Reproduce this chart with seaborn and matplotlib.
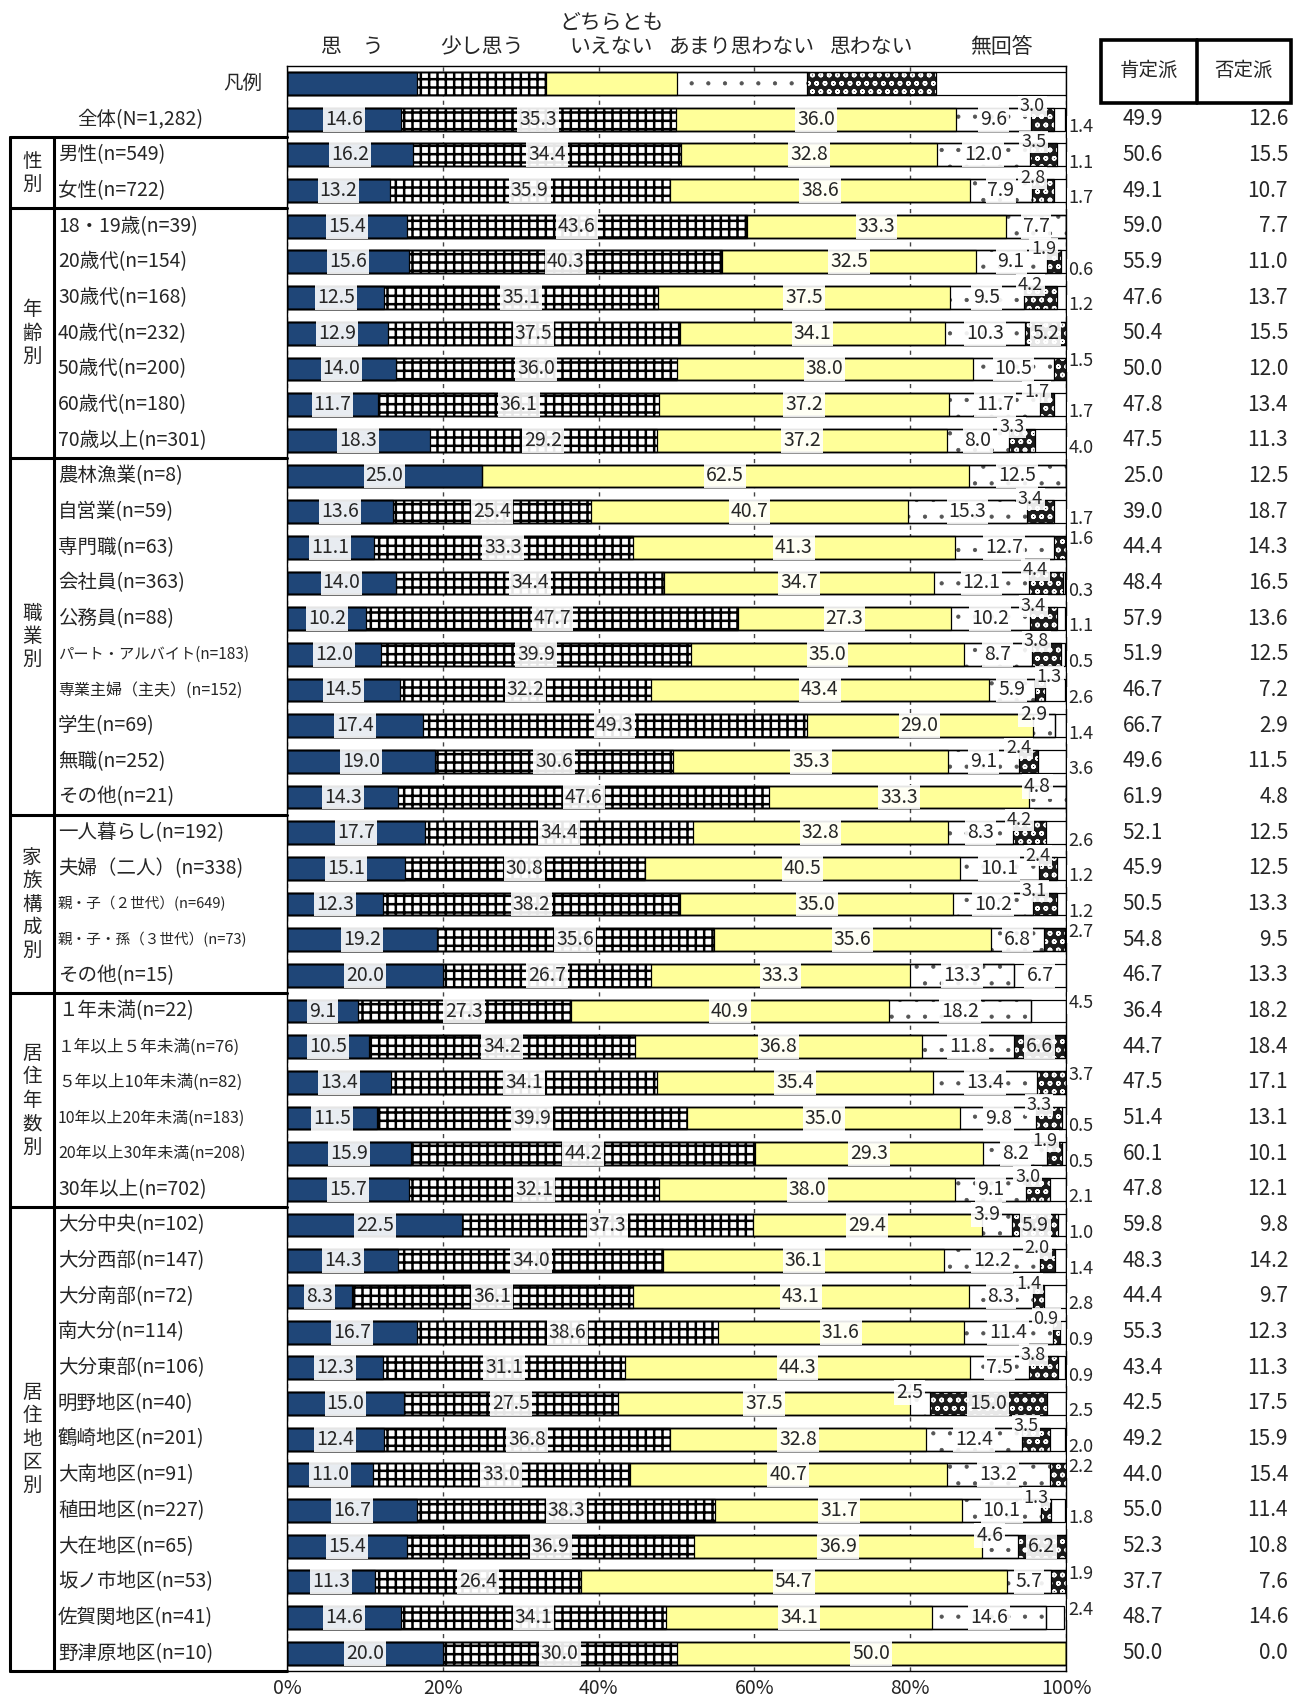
import numpy as np
import pandas as pd
import seaborn as sns
import matplotlib.pyplot as plt
from matplotlib.patches import Rectangle
from matplotlib.transforms import blended_transform_factory

categories = [
    "全体(N=1,282)",
    "男性(n=549)", "女性(n=722)",
    "18・19歳(n=39)", "20歳代(n=154)", "30歳代(n=168)", "40歳代(n=232)",
    "50歳代(n=200)", "60歳代(n=180)", "70歳以上(n=301)",
    "農林漁業(n=8)", "自営業(n=59)", "専門職(n=63)", "会社員(n=363)", "公務員(n=88)",
    "パート・アルバイト(n=183)", "専業主婦（主夫）(n=152)", "学生(n=69)", "無職(n=252)",
    "その他(n=21)",
    "一人暮らし(n=192)", "夫婦（二人）(n=338)", "親・子（２世代）(n=649)",
    "親・子・孫（３世代）(n=73)", "その他(n=15)",
    "１年未満(n=22)", "１年以上５年未満(n=76)", "５年以上10年未満(n=82)",
    "10年以上20年未満(n=183)", "20年以上30年未満(n=208)", "30年以上(n=702)",
    "大分中央(n=102)", "大分西部(n=147)", "大分南部(n=72)", "南大分(n=114)",
    "大分東部(n=106)", "明野地区(n=40)", "鶴崎地区(n=201)", "大南地区(n=91)",
    "稙田地区(n=227)", "大在地区(n=65)", "坂ノ市地区(n=53)", "佐賀関地区(n=41)",
    "野津原地区(n=10)",
]

omou = [14.6, 16.2, 13.2, 15.4, 15.6, 12.5, 12.9, 14.0, 11.7, 18.3,
        25.0, 13.6, 11.1, 14.0, 10.2, 12.0, 14.5, 17.4, 19.0, 14.3,
        17.7, 15.1, 12.3, 19.2, 20.0,
        9.1, 10.5, 13.4, 11.5, 15.9, 15.7,
        22.5, 14.3, 8.3, 16.7, 12.3, 15.0, 12.4, 11.0, 16.7, 15.4, 11.3, 14.6, 20.0]
sukoshi = [35.3, 34.4, 35.9, 43.6, 40.3, 35.1, 37.5, 36.0, 36.1, 29.2,
           0.0, 25.4, 33.3, 34.4, 47.7, 39.9, 32.2, 49.3, 30.6, 47.6,
           34.4, 30.8, 38.2, 35.6, 26.7,
           27.3, 34.2, 34.1, 39.9, 44.2, 32.1,
           37.3, 34.0, 36.1, 38.6, 31.1, 27.5, 36.8, 33.0, 38.3, 36.9, 26.4, 34.1, 30.0]
dochira = [36.0, 32.8, 38.6, 33.3, 32.5, 37.5, 34.1, 38.0, 37.2, 37.2,
           62.5, 40.7, 41.3, 34.7, 27.3, 35.0, 43.4, 29.0, 35.3, 33.3,
           32.8, 40.5, 35.0, 35.6, 33.3,
           40.9, 36.8, 35.4, 35.0, 29.3, 38.0,
           29.4, 36.1, 43.1, 31.6, 44.3, 37.5, 32.8, 40.7, 31.7, 36.9, 54.7, 34.1, 50.0]
amari = [9.6, 12.0, 7.9, 7.7, 9.1, 9.5, 10.3, 10.5, 11.7, 8.0,
         12.5, 15.3, 12.7, 12.1, 10.2, 8.7, 5.9, 2.9, 9.1, 4.8,
         8.3, 10.1, 10.2, 6.8, 13.3,
         18.2, 11.8, 13.4, 9.8, 8.2, 9.1,
         3.9, 12.2, 8.3, 11.4, 7.5, 2.5, 12.4, 13.2, 10.1, 4.6, 5.7, 14.6, 0.0]
omowanai = [3.0, 3.5, 2.8, 0.0, 1.9, 4.2, 5.2, 1.5, 1.7, 3.3,
            0.0, 3.4, 1.6, 4.4, 3.4, 3.8, 1.3, 0.0, 2.4, 0.0,
            4.2, 2.4, 3.1, 2.7, 0.0,
            0.0, 6.6, 3.7, 3.3, 1.9, 3.0,
            5.9, 2.0, 1.4, 0.9, 3.8, 15.0, 3.5, 2.2, 1.3, 6.2, 1.9, 0.0, 0.0]
mukaito = [1.4, 1.1, 1.7, 0.0, 0.6, 1.2, 0.0, 0.0, 1.7, 4.0,
           0.0, 1.7, 0.0, 0.3, 1.1, 0.5, 2.6, 1.4, 3.6, 0.0,
           2.6, 1.2, 1.2, 0.0, 6.7,
           4.5, 0.0, 0.0, 0.5, 0.5, 2.1,
           1.0, 1.4, 2.8, 0.9, 0.9, 2.5, 2.0, 0.0, 1.8, 0.0, 0.0, 2.4, 0.0]
koutei = [49.9, 50.6, 49.1, 59.0, 55.9, 47.6, 50.4, 50.0, 47.8, 47.5,
          25.0, 39.0, 44.4, 48.4, 57.9, 51.9, 46.7, 66.7, 49.6, 61.9,
          52.1, 45.9, 50.5, 54.8, 46.7,
          36.4, 44.7, 47.5, 51.4, 60.1, 47.8,
          59.8, 48.3, 44.4, 55.3, 43.4, 42.5, 49.2, 44.0, 55.0, 52.3, 37.7, 48.7, 50.0]
hitei = [12.6, 15.5, 10.7, 7.7, 11.0, 13.7, 15.5, 12.0, 13.4, 11.3,
         12.5, 18.7, 14.3, 16.5, 13.6, 12.5, 7.2, 2.9, 11.5, 4.8,
         12.5, 12.5, 13.3, 9.5, 13.3,
         18.2, 18.4, 17.1, 13.1, 10.1, 12.1,
         9.8, 14.2, 9.7, 12.3, 11.3, 17.5, 15.9, 15.4, 11.4, 10.8, 7.6, 14.6, 0.0]

series_names = ["思　う", "少し思う", "どちらとも\nいえない", "あまり思わない", "思わない", "無回答"]
legend_vals = [16.7, 16.6, 16.7, 16.7, 16.6, 16.7]

group_names = ["性\n別", "年\n齢\n別", "職\n業\n別", "家\n族\n構\n成\n別",
               "居\n住\n年\n数\n別", "居\n住\n地\n区\n別"]
group_sizes = [2, 7, 10, 5, 6, 13]

small_labels = {
    "パート・アルバイト(n=183)": 11, "専業主婦（主夫）(n=152)": 11.5,
    "親・子（２世代）(n=649)": 10.5, "親・子・孫（３世代）(n=73)": 10.5,
    "１年以上５年未満(n=76)": 12, "５年以上10年未満(n=82)": 12,
    "10年以上20年未満(n=183)": 11.5, "20年以上30年未満(n=208)": 11.5,
}

fills = ["#1f4678", "white", "#ffff99", "white", "#1c1c1c", "white"]
hatches = [None, "++", None, ".", "oo", None]
hatch_cols = ["#1f4678", "black", "#ffff99", "#555555", "white", "white"]
hatch_lws = [1.0, 1.8, 1.0, 0.6, 1.1, 1.0]

sns.set_style("white")
plt.rcParams["font.family"] = ["Noto Sans CJK JP", "DejaVu Sans"]

rows = ["凡例"] + categories
vals = np.array([legend_vals] + [list(t) for t in zip(omou, sukoshi, dochira, amari, omowanai, mukaito)])
cum = vals.cumsum(axis=1)
df = pd.DataFrame(cum, columns=series_names)
df["row"] = rows

fig = plt.figure(figsize=(13, 17.01), dpi=100)
ax = fig.add_axes([0.2208, 0.01764, 0.5992, 0.94373])

# stacked bars drawn from the widest cumulative down
for k in range(5, -1, -1):
    with plt.rc_context({"hatch.linewidth": hatch_lws[k]}):
        sns.barplot(data=df, x=series_names[k], y="row", orient="h", color=fills[k],
                    saturation=1, width=0.64, errorbar=None, hatch=hatches[k],
                    edgecolor=hatch_cols[k], linewidth=0, ax=ax)
for k in range(6):
    sns.barplot(data=df, x=series_names[k], y="row", orient="h", fill=False,
                color="black", linewidth=0.9, width=0.64, errorbar=None, ax=ax)

n = len(rows)
ax.set_xlim(0, 100)
ax.set_ylim(n - 0.5, -0.5)
ax.set_xlabel("")
ax.set_ylabel("")
ax.set_yticks([])
ax.set_xticks(range(0, 101, 20))
ax.set_xticklabels([f"{t}%" for t in range(0, 101, 20)], fontsize=14)
ax.tick_params(axis="x", length=0, pad=5)
ax.xaxis.grid(True, linestyle=(0, (3, 3)), color="#444444", linewidth=1)
ax.set_axisbelow(True)
for s in ax.spines.values():
    s.set_color("black")
    s.set_linewidth(1)

box = dict(boxstyle="square,pad=0.1", fc="white", ec="none", alpha=0.9)


def put(x, y, v, ha="center", size=14):
    ax.text(x, y, f"{v:.1f}", ha=ha, va="center", fontsize=size, bbox=box,
            zorder=10, clip_on=False)


for i in range(len(categories)):
    y = i + 1
    v = vals[y]
    left = 0.0
    above = False
    for k in range(6):
        val = v[k]
        if val > 0:
            cx = left + val / 2
            if k < 3 or val >= 5:
                put(cx, y, val)
            elif k == 3:
                put(cx - 1.3, y - 0.3, val)
                above = True
            elif k == 4:
                if v[5] == 0:
                    put(100.3, y - 0.22, val, ha="left", size=13)
                else:
                    shift = 1.2 if v[3] < 7 else -1.3
                    put(cx + shift, y - 0.36, val, size=13)
                    above = True
            else:
                put(100.3, y + 0.22 if above else y - 0.22, val, ha="left", size=13)
        left += val

# series names above the legend bar
lx = np.concatenate([[0], cum[0][:-1]]) + vals[0] / 2
for k, name in enumerate(series_names):
    if "\n" in name:
        a, b = name.split("\n")
        ax.text(lx[k], -1.72, a, ha="center", va="center", fontsize=15, clip_on=False)
        ax.text(lx[k], -1.02, b, ha="center", va="center", fontsize=15, clip_on=False)
    else:
        ax.text(lx[k], -1.02, name, ha="center", va="center", fontsize=15, clip_on=False)

blend = blended_transform_factory(fig.transFigure, ax.transData)

# row labels
ax.text(0.202, 0, "凡例", transform=blend, ha="right", va="center", fontsize=14)
ax.text(0.108, 1, categories[0], transform=blend, ha="center", va="center", fontsize=14)
for i, lab in enumerate(categories[1:], start=2):
    ax.text(0.0446, i, lab, transform=blend, ha="left", va="center",
            fontsize=small_labels.get(lab, 14))

# group boxes on the left
x0, x1, x2 = 0.0077, 0.0415, 0.2208
start = 1.5
ax.plot([x0, x2], [start, start], transform=blend, color="black", lw=2.2, clip_on=False)
for name, size in zip(group_names, group_sizes):
    end = start + size
    ax.plot([x0, x2], [end, end], transform=blend, color="black", lw=2.2, clip_on=False)
    ax.text((x0 + x1) / 2, (start + end) / 2, name, transform=blend, ha="center",
            va="center", fontsize=14, linespacing=1.15)
    start = end
ax.plot([x0, x0], [1.5, start], transform=blend, color="black", lw=2.2, clip_on=False)
ax.plot([x1, x1], [1.5, start], transform=blend, color="black", lw=2.2, clip_on=False)

# positive / negative table
ax.add_patch(Rectangle((0.847, -1.22), 0.146, 1.77, transform=blend, fill=False,
                       ec="black", lw=2.6, clip_on=False))
ax.plot([0.9208, 0.9208], [-1.22, 0.55], transform=blend, color="black", lw=2.6,
        clip_on=False)
ax.text(0.884, -0.36, "肯定派", transform=blend, ha="center", va="center", fontsize=14)
ax.text(0.957, -0.36, "否定派", transform=blend, ha="center", va="center", fontsize=14)
for i in range(len(categories)):
    ax.text(0.8946, i + 1, f"{koutei[i]:.1f}", transform=blend, ha="right",
            va="center", fontsize=15)
    ax.text(0.9908, i + 1, f"{hitei[i]:.1f}", transform=blend, ha="right",
            va="center", fontsize=15)

fig.savefig("out.png", dpi=100, facecolor="white")
